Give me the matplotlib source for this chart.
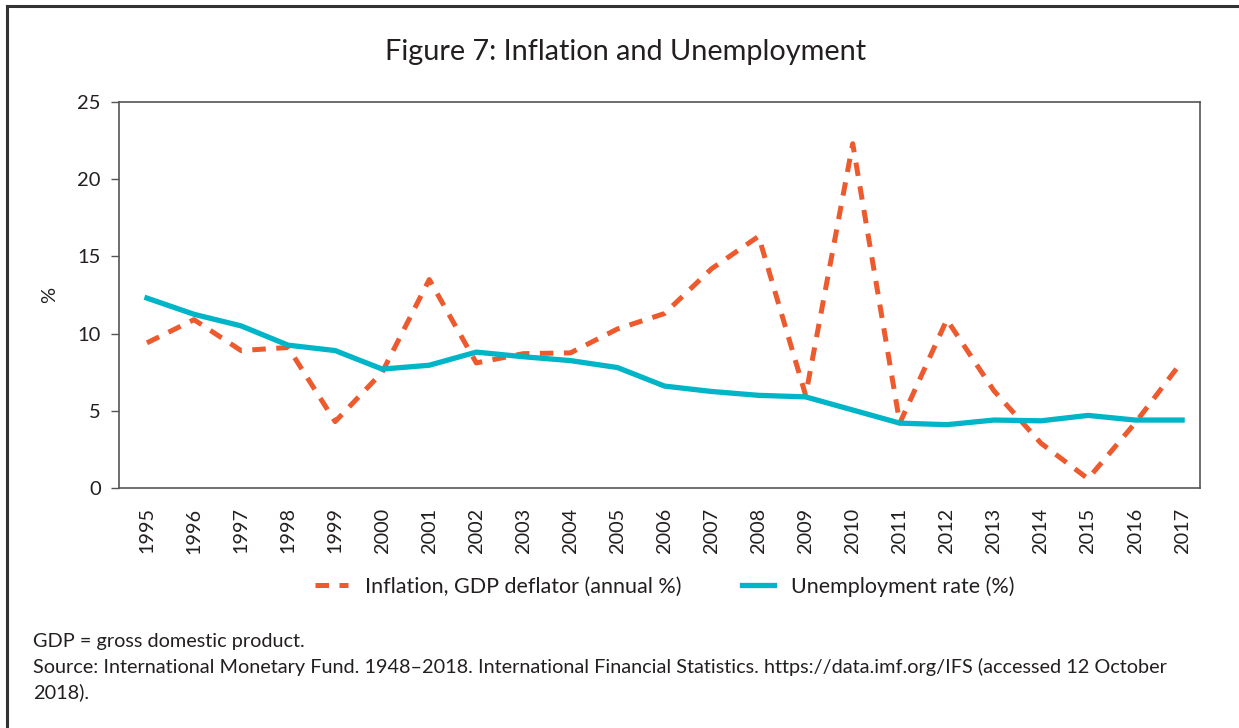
import matplotlib.pyplot as plt
from matplotlib.lines import Line2D

plt.rcParams['font.family'] = ['Lato', 'DejaVu Sans']

years = list(range(1995, 2018))
inflation = [9.4, 10.9, 8.9, 9.1, 4.3, 7.5, 13.5, 8.1, 8.7, 8.75, 10.3, 11.3, 14.2, 16.3,
             6.0, 22.3, 4.2, 10.9, 6.3, 2.9, 0.6, 4.2, 8.2]
unemployment = [12.3, 11.25, 10.5, 9.25, 8.9, 7.7, 7.95, 8.8, 8.5, 8.25, 7.8, 6.6, 6.25, 6.0,
                5.9, 5.05, 4.2, 4.1, 4.4, 4.35, 4.7, 4.4, 4.4]

infl_color = '#EC5A2E'
unemp_color = '#00B5C8'
text_color = '#231F20'

fig = plt.figure(figsize=(12.39, 7.28), dpi=100)
ax = fig.add_axes([0.0960, 0.3297, 0.8725, 0.5302])

ax.plot(years, inflation, color=infl_color, lw=3.6, linestyle=(0, (2.7, 2.1)),
        label='Inflation, GDP deflator (annual %)')
ax.plot(years, unemployment, color=unemp_color, lw=3.8,
        label='Unemployment rate (%)')

ax.set_xlim(1994.405, 2017.38)
ax.set_ylim(0, 25)
ax.set_yticks([0, 5, 10, 15, 20, 25])
ax.set_xticks(years)
ax.set_xticklabels([str(y) for y in years], rotation=90, fontsize=14.3, color=text_color)
ax.tick_params(axis='y', labelsize=14.5, labelcolor=text_color, length=6, width=1,
               color='#555555', pad=7)
ax.tick_params(axis='x', length=0, pad=14)
for s in ax.spines.values():
    s.set_color('#555555')
    s.set_linewidth(1.2)
ax.set_ylabel('%', fontsize=14.5, color=text_color, labelpad=14)

ax.legend(loc='upper center', bbox_to_anchor=(0.505, -0.178), ncol=2, frameon=False,
          fontsize=15.5, handlelength=1.5, columnspacing=2.8, handletextpad=0.8,
          labelcolor=text_color)

fig.text(0.505, 0.929, 'Figure 7: Inflation and Unemployment', ha='center', va='center',
         fontsize=20.8, color=text_color)

fig.text(0.027, 0.119, 'GDP = gross domestic product.', fontsize=14.3, color=text_color,
         va='center')
fig.text(0.027, 0.084, 'Source: International Monetary Fund. 1948\u20132018. International '
         'Financial Statistics. https://data.imf.org/IFS (accessed 12 October',
         fontsize=14.3, color=text_color, va='center')
fig.text(0.027, 0.049, '2018).', fontsize=14.3, color=text_color, va='center')

# outer frame (top and left edges only visible)
fig.add_artist(Line2D([7 / 1239, 1.0], [1 - 6 / 728, 1 - 6 / 728], color='#333333', lw=2.2,
                      transform=fig.transFigure))
fig.add_artist(Line2D([7 / 1239, 7 / 1239], [0.0, 1 - 6 / 728], color='#333333', lw=2.2,
                      transform=fig.transFigure))

fig.savefig('out.png', dpi=100)
